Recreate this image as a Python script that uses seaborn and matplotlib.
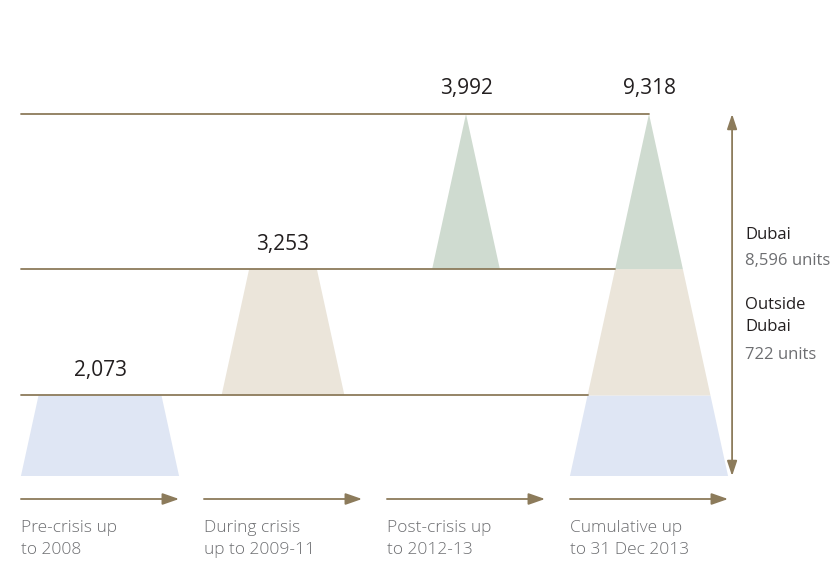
"""
Residential units delivered: stacked cone chart (pre-crisis, crisis, post-crisis, cumulative).
"""
import numpy as np
import seaborn as sns
import matplotlib.pyplot as plt

# data
stages = ['Pre-crisis up\nto 2008', 'During crisis\nup to 2009-11',
          'Post-crisis up\nto 2012-13', 'Cumulative up\nto 31 Dec 2013']
units = [2073, 3253, 3992]
colors = ['#dfe6f4', '#ebe5da', '#cfdbd0']
split_names = ['Dubai', 'Outside\nDubai']
split_units = [8596, 722]

LINE = '#8c7b5b'
DARK = '#231f20'
GREY = '#6d6e71'

sns.set_style('white')
plt.rcParams['font.family'] = ['Open Sans', 'DejaVu Sans']

cum = np.concatenate([[0], np.cumsum(units)])
total = cum[-1]
max_hw = 0.432  # half width of the cone base, in stage units


def half_width(v):
    return max_hw * (1 - v / total)


def draw_segment(ax, x, lo, hi, color):
    xs = [x - half_width(lo), x + half_width(lo), x + half_width(hi), x - half_width(hi)]
    ys = [lo, lo, hi, hi]
    ax.fill(xs, ys, color=color, lw=0, zorder=1)


fig = plt.figure(figsize=(8.38, 5.68), dpi=100)
ax = fig.add_axes([0, 0, 1, 1])
ax.set_xlim(-100 / 183, 738 / 183)
ax.set_ylim(-2368, 12252)
ax.axis('off')

n = len(units)
for i in range(n):
    # single stage piece
    draw_segment(ax, i, cum[i], cum[i + 1], colors[i])
    # same piece inside the cumulative cone
    draw_segment(ax, n, cum[i], cum[i + 1], colors[i])
    # guide line from the left up to the cumulative cone
    ax.plot([-max_hw, n - half_width(cum[i + 1])], [cum[i + 1]] * 2,
            color=LINE, lw=1.3, zorder=2)
    ax.annotate(f'{units[i]:,}', (i, cum[i + 1]), xytext=(0, 18),
                textcoords='offset points', ha='center', va='center',
                fontsize=15, color=DARK)

ax.annotate(f'{total:,}', (n, total), xytext=(0, 18), textcoords='offset points',
            ha='center', va='center', fontsize=15, color=DARK)

# double arrow for the cumulative total
ax.annotate('', xy=(3.454, total), xytext=(3.454, 0),
            arrowprops=dict(arrowstyle='<|-|>,head_length=0.9,head_width=0.3',
                            color=LINE, lw=1.3, shrinkA=0, shrinkB=0))

# Dubai / outside Dubai split
ax.text(3.525, 6200, split_names[0], fontsize=12, color=DARK, va='center')
ax.text(3.525, 5530, f'{split_units[0]:,} units', fontsize=12, color=GREY, va='center')
ax.text(3.525, 4130, split_names[1], fontsize=12, color=DARK, va='center',
        linespacing=1.5)
ax.text(3.525, 3120, f'{split_units[1]:,} units', fontsize=12, color=GREY, va='center')

# stage arrows and labels
for i, label in enumerate(stages):
    ax.annotate('', xy=(i + max_hw, -592), xytext=(i - max_hw, -592),
                arrowprops=dict(arrowstyle='-|>,head_length=1.0,head_width=0.35',
                                color=LINE, lw=1.3, shrinkA=0, shrinkB=0))
    ax.text(i - max_hw, -1145, label, fontsize=12.5, color=GREY, va='top',
            linespacing=1.45, fontweight='light')

plt.savefig('out.png', dpi=100)
plt.close()
